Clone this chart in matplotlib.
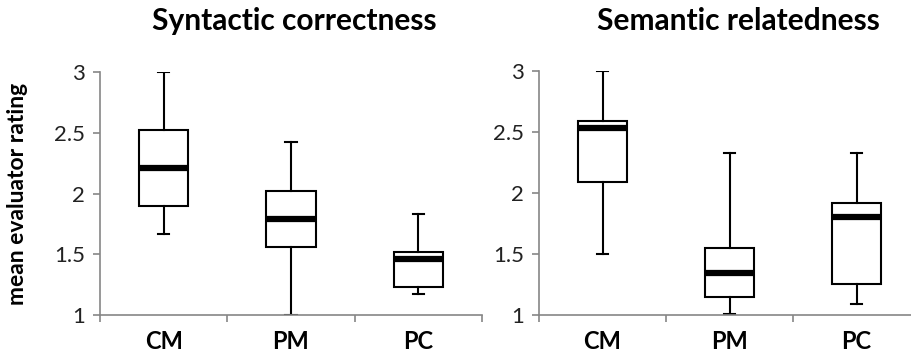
import matplotlib
matplotlib.use('Agg')
from matplotlib import pyplot as plt

plt.rcParams['font.family'] = ['Lato', 'DejaVu Sans']

categories = ['CM', 'PM', 'PC']
y_ticks = [1, 1.5, 2, 2.5, 3]
y_tick_labels = ['1', '1.5', '2', '2.5', '3']

# syntactic correctness: low whisker, q1, median, q3, high whisker
syn_low = [1.67, 1.00, 1.17]
syn_q1 = [1.90, 1.56, 1.23]
syn_med = [2.21, 1.79, 1.46]
syn_q3 = [2.52, 2.02, 1.52]
syn_high = [3.00, 2.42, 1.83]

# semantic relatedness
sem_low = [1.50, 1.01, 1.09]
sem_q1 = [2.09, 1.15, 1.25]
sem_med = [2.53, 1.34, 1.80]
sem_q3 = [2.59, 1.55, 1.92]
sem_high = [3.00, 2.33, 2.33]

grey = '#868686'


def make_stats(low, q1, med, q3, high):
    return [dict(whislo=a, q1=b, med=c, q3=d, whishi=e, fliers=[])
            for a, b, c, d, e in zip(low, q1, med, q3, high)]


def draw(ax, stats, title, title_x):
    ax.bxp(stats, positions=[1, 2, 3], widths=0.39, capwidths=0.09,
           showfliers=False, patch_artist=True,
           boxprops=dict(facecolor='white', edgecolor='black', linewidth=1.5),
           medianprops=dict(color='black', linewidth=4.5, solid_capstyle='butt'),
           whiskerprops=dict(color='black', linewidth=1.5),
           capprops=dict(color='black', linewidth=1.5))
    ax.set_xlim(0.5, 3.5)
    ax.set_ylim(1, 3)
    for s in ['top', 'right']:
        ax.spines[s].set_visible(False)
    for s in ['left', 'bottom']:
        ax.spines[s].set_color(grey)
        ax.spines[s].set_linewidth(1.2)
    ax.set_yticks(y_ticks)
    ax.set_yticklabels(y_tick_labels, fontsize=16, color='#222222')
    ax.tick_params(axis='y', direction='out', length=5, color=grey, width=1.2, pad=6)
    # category boundaries carry the ticks, labels sit between them
    ax.set_xticks([0.5, 1.5, 2.5, 3.5])
    ax.set_xticklabels([])
    ax.tick_params(axis='x', which='major', direction='out', length=5, color=grey, width=1.2)
    ax.set_xticks([1, 2, 3], minor=True)
    ax.set_xticklabels(categories, minor=True, fontsize=17, fontweight='bold')
    ax.tick_params(axis='x', which='minor', length=0, pad=11)
    fig.text(title_x, 1 - 21 / 356, title, fontsize=21.5, fontweight='bold',
             ha='center', va='center')


fig = plt.figure(figsize=(9.11, 3.56), dpi=100)
W, H = 911, 356
ax1 = fig.add_axes([100 / W, (H - 315) / H, 382 / W, 243 / H])
ax2 = fig.add_axes([539 / W, (H - 315) / H, 381 / W, 244.3 / H])

draw(ax1, make_stats(syn_low, syn_q1, syn_med, syn_q3, syn_high),
     'Syntactic correctness', 294 / W)
draw(ax2, make_stats(sem_low, sem_q1, sem_med, sem_q3, sem_high),
     'Semantic relatedness', 738 / W)

fig.text(18 / W, (H - 194) / H, 'mean evaluator rating', rotation=90,
         fontsize=16.5, fontweight='bold', ha='center', va='center')

fig.savefig('out.png', dpi=100)
